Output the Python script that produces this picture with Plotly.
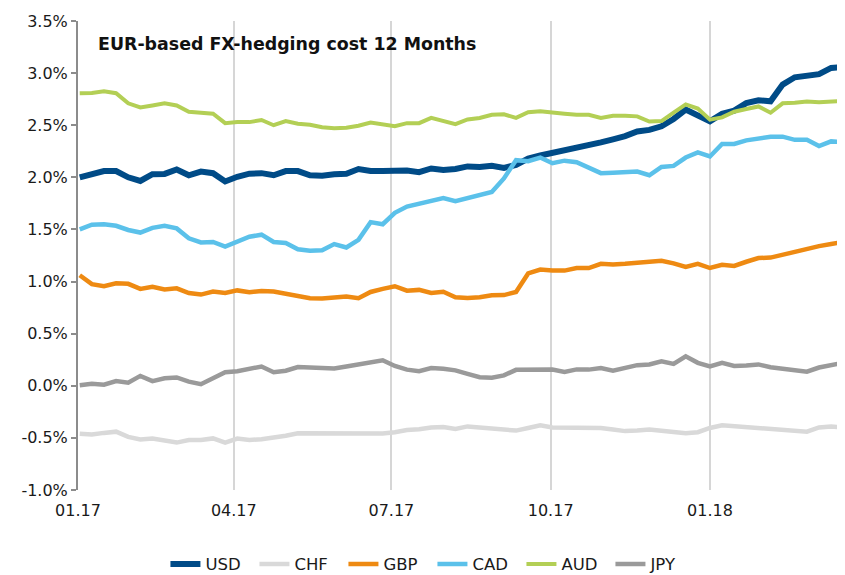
import pandas as pd
import plotly.graph_objects as go

# Weekly observations (Mondays), 02.01.2017 - 19.03.2018
dates = pd.date_range("2017-01-02", "2018-03-19", freq="7D")

usd = [2.00, 2.03, 2.06, 2.06, 2.00, 1.965, 2.03, 2.033, 2.075, 2.02,
       2.055, 2.04, 1.96, 2.005, 2.035, 2.04, 2.02, 2.06, 2.06, 2.02,
       2.015, 2.03, 2.035, 2.08, 2.06, 2.06, 2.06, 2.065, 2.05, 2.085,
       2.07, 2.08, 2.105, 2.10, 2.11, 2.09, 2.12, 2.18, 2.21, 2.235,
       2.255, 2.28, 2.30, 2.335, 2.365, 2.395, 2.44, 2.455, 2.49, 2.56,
       2.65, 2.59, 2.537, 2.61, 2.64, 2.712, 2.74, 2.73, 2.89, 2.96,
       2.975, 2.99, 3.05, 3.06]

chf = [-0.46, -0.468, -0.452, -0.44, -0.49, -0.515, -0.507, -0.53, -0.545, -0.52,
       -0.52, -0.505, -0.545, -0.506, -0.52, -0.512, -0.50, -0.48, -0.455, -0.455,
       -0.46, -0.45, -0.452, -0.457, -0.46, -0.457, -0.445, -0.425, -0.418, -0.40,
       -0.395, -0.414, -0.39, -0.40, -0.41, -0.425, -0.43, -0.405, -0.38, -0.40,
       -0.40, -0.395, -0.395, -0.405, -0.42, -0.435, -0.43, -0.42, -0.432, -0.445,
       -0.455, -0.445, -0.405, -0.38, -0.388, -0.393, -0.40, -0.41, -0.418, -0.43,
       -0.44, -0.40, -0.392, -0.40]

gbp = [1.06, 0.975, 0.955, 0.983, 0.978, 0.93, 0.95, 0.925, 0.935, 0.89,
       0.875, 0.905, 0.89, 0.915, 0.897, 0.91, 0.905, 0.885, 0.865, 0.84,
       0.838, 0.85, 0.857, 0.84, 0.90, 0.93, 0.955, 0.912, 0.92, 0.89,
       0.902, 0.85, 0.843, 0.849, 0.868, 0.87, 0.90, 1.078, 1.115, 1.105,
       1.105, 1.13, 1.13, 1.17, 1.163, 1.17, 1.18, 1.195, 1.20, 1.175,
       1.14, 1.17, 1.13, 1.16, 1.15, 1.19, 1.225, 1.23, 1.26, 1.29,
       1.31, 1.34, 1.36, 1.38]

cad = [1.50, 1.545, 1.55, 1.535, 1.495, 1.47, 1.515, 1.535, 1.51, 1.415,
       1.375, 1.38, 1.335, 1.385, 1.43, 1.45, 1.38, 1.37, 1.31, 1.295,
       1.30, 1.36, 1.327, 1.40, 1.57, 1.55, 1.66, 1.72, 1.745, 1.773,
       1.80, 1.77, 1.80, 1.82, 1.86, 1.99, 2.165, 2.155, 2.19, 2.135,
       2.16, 2.145, 2.09, 2.04, 2.045, 2.05, 2.055, 2.02, 2.10, 2.11,
       2.19, 2.24, 2.20, 2.32, 2.32, 2.355, 2.375, 2.39, 2.39, 2.36,
       2.36, 2.30, 2.345, 2.34]

aud = [2.807, 2.81, 2.825, 2.807, 2.71, 2.67, 2.69, 2.71, 2.69, 2.63,
       2.62, 2.61, 2.52, 2.53, 2.53, 2.55, 2.50, 2.54, 2.515, 2.505,
       2.48, 2.47, 2.475, 2.495, 2.525, 2.505, 2.49, 2.52, 2.52, 2.57,
       2.535, 2.51, 2.555, 2.57, 2.60, 2.605, 2.57, 2.625, 2.635, 2.627,
       2.61, 2.60, 2.60, 2.57, 2.59, 2.59, 2.585, 2.535, 2.54, 2.62,
       2.70, 2.66, 2.553, 2.575, 2.63, 2.655, 2.68, 2.62, 2.71, 2.715,
       2.728, 2.72, 2.728, 2.735]

jpy = [0.006, 0.02, 0.01, 0.045, 0.03, 0.095, 0.045, 0.072, 0.08, 0.04,
       0.015, 0.07, 0.13, 0.14, 0.16, 0.185, 0.13, 0.145, 0.18, 0.175,
       0.165, 0.165, 0.185, 0.205, 0.235, 0.245, 0.19, 0.155, 0.14, 0.17,
       0.163, 0.148, 0.115, 0.082, 0.078, 0.10, 0.153, 0.156, 0.162, 0.155,
       0.133, 0.157, 0.155, 0.17, 0.145, 0.17, 0.198, 0.205, 0.235, 0.21,
       0.283, 0.22, 0.185, 0.22, 0.19, 0.195, 0.205, 0.178, 0.165, 0.15,
       0.135, 0.175, 0.195, 0.22]

series_names = ["USD", "CHF", "GBP", "CAD", "AUD", "JPY"]
series_values = [usd, chf, gbp, cad, aud, jpy]
series_colors = ["#004B87", "#D9D9D9", "#EE8A12", "#5BC1EA", "#B3CF55", "#9A9A9A"]
series_widths = [6, 4.5, 4.5, 4.5, 4, 4.5]

x_tick_vals = ["2017-01-01", "2017-04-01", "2017-07-01", "2017-10-01", "2018-01-01"]
x_tick_text = ["01.17", "04.17", "07.17", "10.17", "01.18"]
y_tick_vals = [-1.0, -0.5, 0.0, 0.5, 1.0, 1.5, 2.0, 2.5, 3.0, 3.5]
y_tick_text = ["-1.0%", "-0.5%", "0.0%", "0.5%", "1.0%", "1.5%", "2.0%", "2.5%", "3.0%", "3.5%"]
title_text = "EUR-based FX-hedging cost 12 Months"

FONT = "DejaVu Sans"
AXIS_GRAY = "#8C8C8C"

fig = go.Figure()
for name, vals, col, w in zip(series_names, series_values, series_colors, series_widths):
    fig.add_trace(go.Scatter(x=dates, y=vals, name=name, mode="lines",
                             line=dict(color=col, width=w, shape="linear"),
                             hoverinfo="skip"))

x_range = ["2017-01-01", "2018-03-20"]
y_min, y_max = -1.0, 3.5
zero_pos = (0 - y_min) / (y_max - y_min)

# page body has an 8px default margin -> figure is 837x567
fig.update_layout(
    width=837, height=567,
    margin=dict(l=70, r=0, t=13, b=85),
    plot_bgcolor="white", paper_bgcolor="white",
    font=dict(family=FONT, size=16, color="#1a1a1a"),
    xaxis=dict(range=x_range, type="date", tickvals=x_tick_vals, ticktext=x_tick_text,
               showgrid=True, gridcolor="#D6D6D6", gridwidth=1.5,
               showline=False, zeroline=False,
               ticks="outside", ticklen=6, tickcolor="rgba(0,0,0,0)",
               tickfont=dict(family=FONT, size=16, color="#1a1a1a")),
    xaxis2=dict(range=x_range, type="date", overlaying="x", anchor="free",
                position=zero_pos, side="bottom", tickvals=x_tick_vals,
                showticklabels=False, showgrid=False, zeroline=False,
                showline=True, linecolor=AXIS_GRAY, linewidth=2,
                ticks="outside", ticklen=5, tickwidth=2, tickcolor=AXIS_GRAY),
    yaxis=dict(range=[y_min, y_max], tickvals=y_tick_vals, ticktext=y_tick_text,
               showgrid=False, zeroline=False,
               showline=True, linecolor=AXIS_GRAY, linewidth=2,
               ticks="outside", ticklen=5, tickwidth=2, tickcolor=AXIS_GRAY,
               tickfont=dict(family=FONT, size=16, color="#1a1a1a")),
    legend=dict(orientation="h", xref="paper", x=0.114, xanchor="left",
                yref="container", y=0.019, yanchor="middle",
                font=dict(family=FONT, size=16.5, color="#1a1a1a"),
                bgcolor="rgba(0,0,0,0)", entrywidth=44, entrywidthmode="pixels"),
    annotations=[dict(text="<b>" + title_text + "</b>", xref="paper", yref="paper",
                      x=0.024, y=0.95, xanchor="left", yanchor="middle",
                      showarrow=False, font=dict(family=FONT, size=17.4, color="#111111"))],
)

fig.write_html("out.html")
